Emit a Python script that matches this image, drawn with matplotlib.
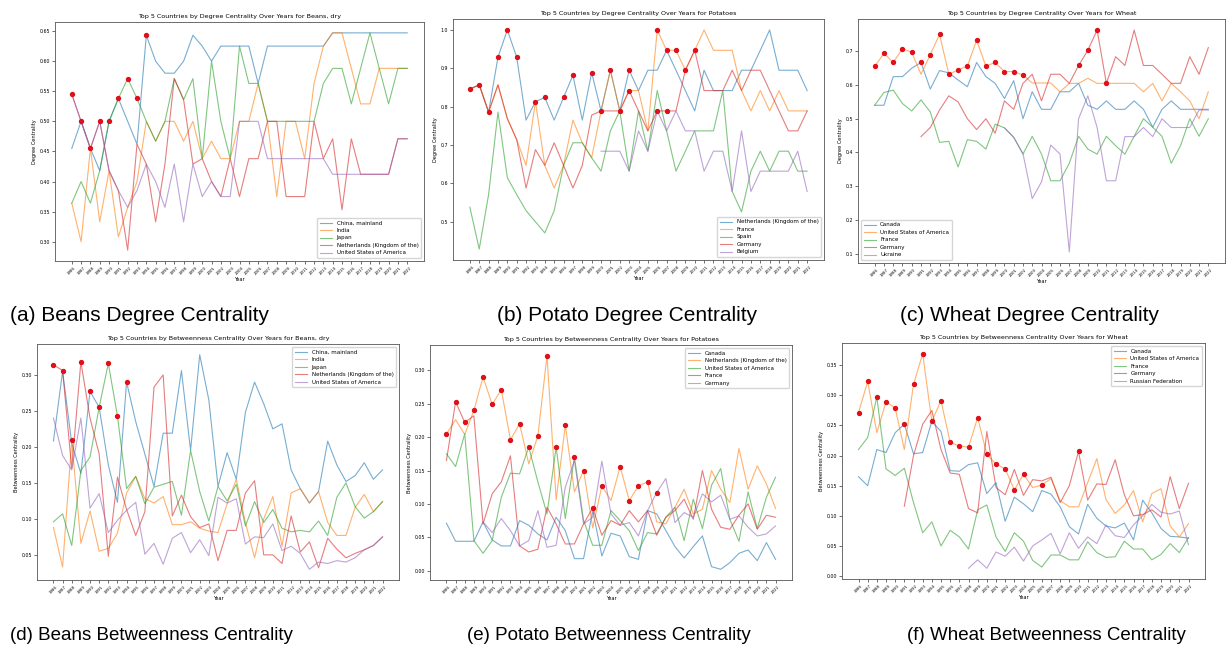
import numpy as np
import matplotlib
matplotlib.use("Agg")
import matplotlib.pyplot as plt

nan = np.nan
years = list(range(1986, 2023))

# (a) Beans, dry - degree centrality
beans_deg_countries = ["China, mainland", "India", "Japan", "Netherlands (Kingdom of the)", "United States of America"]
beans_deg_china = [0.455, 0.50, 0.455, 0.418, 0.50, 0.538, 0.50, 0.462, 0.643,
                   0.60, 0.58, 0.58, 0.60, 0.643, 0.625, 0.60, 0.625, 0.625, 0.625,
                   0.625, 0.563, 0.625, 0.625, 0.625, 0.625, 0.625, 0.625, 0.625,
                   0.647, 0.647, 0.647, 0.647, 0.647, 0.647, 0.647, 0.647, 0.647]
beans_deg_india = [0.364, 0.30, 0.455, 0.333, 0.418, 0.308, 0.357, 0.40, 0.50,
                   0.467, 0.50, 0.50, 0.467, 0.50, 0.438, 0.467, 0.438, 0.438, 0.50,
                   0.50, 0.563, 0.50, 0.375, 0.50, 0.50, 0.438, 0.563, 0.625,
                   0.647, 0.647, 0.588, 0.529, 0.529, 0.588, 0.588, 0.588, 0.588]
beans_deg_japan = [0.364, 0.40, 0.364, 0.418, 0.50, 0.538, 0.571, 0.538, 0.50,
                   0.467, 0.50, 0.571, 0.536, 0.571, 0.438, 0.60, 0.50, 0.438, 0.625,
                   0.563, 0.563, 0.50, 0.50, 0.50, 0.50, 0.50, 0.50, 0.563,
                   0.588, 0.588, 0.529, 0.588, 0.647, 0.588, 0.529, 0.588, 0.588]
beans_deg_nl = [0.545, 0.50, 0.455, 0.50, 0.418, 0.385, 0.286, 0.462, 0.429,
                0.333, 0.429, 0.571, 0.536, 0.429, 0.438, 0.40, 0.375, 0.438, 0.375,
                0.438, 0.438, 0.50, 0.50, 0.375, 0.375, 0.375, 0.50, 0.438,
                0.471, 0.353, 0.471, 0.412, 0.412, 0.412, 0.412, 0.471, 0.471]
beans_deg_usa = [0.545, 0.50, 0.455, 0.50, 0.418, 0.385, 0.357, 0.385, 0.429,
                 0.40, 0.357, 0.429, 0.333, 0.429, 0.375, 0.40, 0.375, 0.375, 0.50,
                 0.50, 0.50, 0.438, 0.438, 0.438, 0.438, 0.438, 0.438, 0.438,
                 0.412, 0.412, 0.412, 0.412, 0.412, 0.412, 0.412, 0.471, 0.471]
beans_deg_mark_years = [1986, 1987, 1988, 1989, 1990, 1991, 1992, 1993, 1994]
beans_deg_mark_who = [3, 3, 3, 3, 2, 2, 2, 2, 0]

# (b) Potatoes - degree centrality
potato_deg_countries = ["Netherlands (Kingdom of the)", "France", "Spain", "Germany", "Belgium"]
potato_deg_nl = [0.846, 0.857, 0.786, 0.929, 1.0, 0.929, 0.765, 0.813, 0.824,
                 0.765, 0.824, 0.882, 0.765, 0.889, 0.789, 0.895, 0.789, 0.895, 0.842,
                 0.895, 0.895, 0.947, 0.895, 0.842, 0.789, 0.895, 0.842, 0.842,
                 0.842, 0.895, 0.895, 0.947, 1.0, 0.895, 0.895, 0.895, 0.842]
potato_deg_france = [0.846, 0.857, 0.786, 0.857, 0.769, 0.714, 0.647, 0.813, 0.647,
                     0.588, 0.647, 0.765, 0.706, 0.667, 0.789, 0.895, 0.789, 0.842, 0.842,
                     0.737, 1.0, 0.947, 0.947, 0.895, 0.947, 1.0, 0.947, 0.947,
                     0.947, 0.842, 0.789, 0.842, 0.789, 0.842, 0.789, 0.789, 0.789]
potato_deg_spain = [0.538, 0.429, 0.571, 0.786, 0.615, 0.571, 0.529, 0.50, 0.471,
                    0.529, 0.647, 0.706, 0.706, 0.667, 0.632, 0.737, 0.789, 0.632, 0.789,
                    0.684, 0.842, 0.737, 0.632, 0.684, 0.737, 0.737, 0.737, 0.842,
                    0.579, 0.526, 0.632, 0.684, 0.632, 0.684, 0.684, 0.632, 0.632]
potato_deg_germany = [0.846, 0.857, 0.786, 0.857, 0.769, 0.714, 0.588, 0.688, 0.647,
                      0.706, 0.647, 0.588, 0.647, 0.778, 0.789, 0.789, 0.789, 0.842, 0.789,
                      0.737, 0.789, 0.789, 0.789, 0.895, 0.947, 0.842, 0.842, 0.842,
                      0.895, 0.842, 0.895, 0.895, 0.842, 0.789, 0.737, 0.737, 0.789]
potato_deg_belgium = [nan] * 14 + [0.684, 0.684, 0.684, 0.632, 0.737,
                                   0.684, 0.789, 0.737, 0.789, 0.737, 0.737, 0.632, 0.684, 0.684,
                                   0.579, 0.737, 0.579, 0.632, 0.632, 0.632, 0.632, 0.684, 0.579]
potato_deg_mark_years = [1986, 1987, 1988, 1989, 1990, 1991, 1993, 1994, 1996, 1997, 1999,
                         2000, 2001, 2002, 2003, 2003, 2006, 2006, 2007, 2007, 2008, 2009, 2010]
potato_deg_mark_who = [0, 0, 0, 0, 0, 0, 0, 0, 0, 0, 0,
                       0, 0, 0, 0, 3, 1, 3, 0, 3, 1, 3, 3]

# (c) Wheat - degree centrality
wheat_deg_countries = ["Canada", "United States of America", "France", "Germany", "Ukraine"]
wheat_deg_canada = [0.54, 0.54, 0.625, 0.625, 0.65, 0.667, 0.588, 0.643, 0.636,
                    0.615, 0.595, 0.667, 0.625, 0.605, 0.56, 0.613, 0.50, 0.58, 0.528,
                    0.528, 0.58, 0.58, 0.605, 0.54, 0.528, 0.553, 0.528, 0.528,
                    0.553, 0.528, 0.475, 0.528, 0.553, 0.528, 0.528, 0.528, 0.528]
wheat_deg_usa = [0.655, 0.694, 0.667, 0.708, 0.697, 0.632, 0.69, 0.75, 0.632,
                 0.645, 0.656, 0.733, 0.656, 0.667, 0.64, 0.64, 0.63, 0.606, 0.606,
                 0.606, 0.58, 0.605, 0.605, 0.62, 0.605, 0.605, 0.605, 0.605,
                 0.605, 0.58, 0.605, 0.553, 0.605, 0.58, 0.553, 0.50, 0.58]
wheat_deg_france = [0.54, 0.578, 0.585, 0.545, 0.523, 0.556, 0.52, 0.43, 0.433,
                    0.357, 0.438, 0.433, 0.41, 0.484, 0.473, 0.445, 0.395, 0.448, 0.395,
                    0.316, 0.316, 0.368, 0.448, 0.41, 0.395, 0.448, 0.42, 0.395,
                    0.448, 0.50, 0.475, 0.448, 0.368, 0.42, 0.50, 0.448, 0.50]
wheat_deg_germany = [nan] * 5 + [0.447, 0.474, 0.526, 0.568,
                                 0.55, 0.50, 0.468, 0.50, 0.457, 0.553, 0.528, 0.605, 0.632, 0.553,
                                 0.632, 0.632, 0.605, 0.658, 0.703, 0.763, 0.605, 0.684, 0.658,
                                 0.763, 0.658, 0.658, 0.632, 0.605, 0.605, 0.684, 0.632, 0.711]
wheat_deg_ukraine = [nan] * 14 + [0.473, 0.445, 0.397, 0.263, 0.313,
                                  0.422, 0.395, 0.105, 0.50, 0.568, 0.474, 0.316, 0.316, 0.447,
                                  0.447, 0.474, 0.447, 0.50, 0.474, 0.474, 0.474, 0.526, 0.526]
wheat_deg_mark_years = [1986, 1987, 1988, 1989, 1990, 1991, 1992, 1993, 1994, 1995, 1996,
                        1997, 1998, 1999, 2000, 2001, 2002, 2008, 2009, 2010, 2011]
wheat_deg_mark_who = [1, 1, 1, 1, 1, 0, 1, 1, 1, 1, 1,
                      1, 1, 1, 1, 1, 1, 3, 3, 3, 1]

# (d) Beans, dry - betweenness centrality
beans_btw_countries = beans_deg_countries
beans_btw_china = [0.208, 0.305, 0.205, 0.163, 0.277, 0.255, 0.175, 0.123, 0.290,
                   0.235, 0.190, 0.145, 0.219, 0.219, 0.306, 0.195, 0.328, 0.265, 0.145,
                   0.192, 0.155, 0.248, 0.290, 0.260, 0.225, 0.232, 0.168, 0.142,
                   0.122, 0.138, 0.208, 0.175, 0.152, 0.160, 0.178, 0.155, 0.168]
beans_btw_india = [0.088, 0.033, 0.209, 0.066, 0.111, 0.055, 0.059, 0.080, 0.136,
                   0.159, 0.128, 0.122, 0.131, 0.092, 0.092, 0.096, 0.087, 0.083, 0.081,
                   0.121, 0.155, 0.095, 0.046, 0.100, 0.131, 0.062, 0.136, 0.142,
                   0.122, 0.138, 0.095, 0.077, 0.077, 0.116, 0.134, 0.110, 0.124]
beans_btw_japan = [0.096, 0.107, 0.063, 0.167, 0.186, 0.255, 0.316, 0.243, 0.142,
                   0.159, 0.121, 0.144, 0.148, 0.152, 0.105, 0.195, 0.138, 0.097, 0.145,
                   0.125, 0.148, 0.090, 0.124, 0.095, 0.113, 0.087, 0.082, 0.084,
                   0.082, 0.097, 0.077, 0.130, 0.150, 0.117, 0.101, 0.110, 0.124]
beans_btw_nl = [0.314, 0.306, 0.170, 0.318, 0.240, 0.190, 0.048, 0.158, 0.113,
                0.077, 0.110, 0.283, 0.300, 0.104, 0.133, 0.103, 0.088, 0.093, 0.042,
                0.084, 0.084, 0.136, 0.153, 0.050, 0.050, 0.038, 0.104, 0.054,
                0.068, 0.032, 0.073, 0.058, 0.046, 0.052, 0.057, 0.063, 0.075]
beans_btw_usa = [0.240, 0.188, 0.168, 0.240, 0.115, 0.135, 0.081, 0.098, 0.112,
                 0.123, 0.051, 0.066, 0.037, 0.073, 0.081, 0.053, 0.071, 0.049, 0.130,
                 0.122, 0.128, 0.065, 0.075, 0.074, 0.093, 0.056, 0.062, 0.052,
                 0.030, 0.040, 0.038, 0.042, 0.040, 0.046, 0.057, 0.063, 0.075]
beans_btw_mark_years = [1986, 1987, 1988, 1989, 1990, 1991, 1992, 1993, 1994]
beans_btw_mark_who = [3, 3, 1, 3, 0, 0, 2, 2, 0]

# (e) Potatoes - betweenness centrality
potato_btw_countries = ["Canada", "Netherlands (Kingdom of the)", "United States of America", "France", "Germany"]
potato_btw_canada = [0.071, 0.044, 0.044, 0.044, 0.073, 0.046, 0.037, 0.037, 0.075,
                     0.068, 0.055, 0.046, 0.080, 0.060, 0.018, 0.018, 0.090, 0.022, 0.056,
                     0.052, 0.021, 0.017, 0.090, 0.085, 0.060, 0.036, 0.019, 0.036,
                     0.052, 0.006, 0.002, 0.012, 0.026, 0.031, 0.015, 0.042, 0.017]
potato_btw_nl = [0.205, 0.226, 0.204, 0.240, 0.290, 0.249, 0.271, 0.196, 0.220,
                 0.160, 0.202, 0.322, 0.106, 0.218, 0.118, 0.150, 0.064, 0.127, 0.105,
                 0.156, 0.105, 0.127, 0.133, 0.073, 0.070, 0.095, 0.122, 0.085,
                 0.092, 0.150, 0.122, 0.102, 0.183, 0.122, 0.157, 0.130, 0.093]
potato_btw_usa = [0.175, 0.156, 0.205, 0.045, 0.026, 0.045, 0.110, 0.146, 0.145,
                  0.185, 0.133, 0.085, 0.185, 0.078, 0.170, 0.075, 0.038, 0.038, 0.090,
                  0.075, 0.060, 0.030, 0.057, 0.055, 0.080, 0.095, 0.045, 0.107,
                  0.063, 0.128, 0.153, 0.077, 0.044, 0.118, 0.063, 0.110, 0.140]
potato_btw_france = [0.165, 0.253, 0.222, 0.232, 0.070, 0.115, 0.133, 0.172, 0.037,
                     0.028, 0.032, 0.095, 0.070, 0.040, 0.040, 0.070, 0.094, 0.053, 0.075,
                     0.068, 0.090, 0.073, 0.090, 0.053, 0.080, 0.090, 0.107, 0.077,
                     0.150, 0.092, 0.065, 0.062, 0.083, 0.100, 0.062, 0.083, 0.080]
potato_btw_germany = [nan] * 4 + [0.073, 0.057, 0.078, 0.060, 0.037,
                                  0.045, 0.090, 0.035, 0.038, 0.125, 0.165, 0.070, 0.080, 0.164, 0.085,
                                  0.068, 0.072, 0.052, 0.090, 0.117, 0.138, 0.072, 0.087, 0.080,
                                  0.115, 0.103, 0.113, 0.077, 0.082, 0.065, 0.052, 0.055, 0.067]
potato_btw_mark_years = [1986, 1987, 1988, 1989, 1990, 1991, 1992, 1993, 1994, 1995, 1996, 1997,
                         1998, 1999, 2000, 2001, 2002, 2003, 2005, 2006, 2007, 2008, 2009]
potato_btw_mark_who = [1, 3, 3, 1, 1, 1, 1, 1, 1, 2, 1, 1,
                       2, 1, 2, 1, 3, 1, 1, 1, 1, 1, 4]

# (f) Wheat - betweenness centrality
wheat_btw_countries = ["Canada", "United States of America", "France", "Germany", "Russian Federation"]
wheat_btw_canada = [0.165, 0.150, 0.210, 0.205, 0.238, 0.252, 0.203, 0.205, 0.257,
                    0.240, 0.175, 0.174, 0.185, 0.188, 0.137, 0.155, 0.091, 0.131, 0.120,
                    0.107, 0.142, 0.136, 0.115, 0.082, 0.070, 0.119, 0.096, 0.083,
                    0.080, 0.088, 0.060, 0.126, 0.105, 0.079, 0.066, 0.065, 0.063]
wheat_btw_usa = [0.271, 0.323, 0.238, 0.289, 0.279, 0.210, 0.318, 0.369, 0.257,
                 0.291, 0.222, 0.216, 0.214, 0.263, 0.202, 0.186, 0.178, 0.143, 0.169,
                 0.147, 0.151, 0.162, 0.125, 0.115, 0.115, 0.155, 0.195, 0.127,
                 0.104, 0.118, 0.142, 0.090, 0.137, 0.145, 0.083, 0.065, 0.087]
wheat_btw_france = [0.210, 0.230, 0.297, 0.178, 0.167, 0.179, 0.122, 0.072, 0.090,
                    0.050, 0.076, 0.065, 0.045, 0.110, 0.118, 0.065, 0.041, 0.072, 0.058,
                    0.026, 0.015, 0.035, 0.035, 0.027, 0.027, 0.057, 0.039, 0.031,
                    0.032, 0.058, 0.045, 0.045, 0.027, 0.036, 0.054, 0.039, 0.064]
wheat_btw_germany = [nan] * 5 + [0.116, 0.200, 0.252, 0.275,
                                 0.210, 0.171, 0.169, 0.112, 0.105, 0.240, 0.147, 0.135, 0.177, 0.134,
                                 0.160, 0.158, 0.164, 0.122, 0.150, 0.207, 0.126, 0.153, 0.152,
                                 0.193, 0.135, 0.100, 0.102, 0.110, 0.098, 0.165, 0.112, 0.154]
wheat_btw_russia = [nan] * 12 + [0.013, 0.027, 0.013, 0.040, 0.033, 0.048, 0.025,
                                 0.050, 0.060, 0.071, 0.037, 0.072, 0.046, 0.065, 0.054, 0.085,
                                 0.067, 0.064, 0.085, 0.100, 0.119, 0.106, 0.103, 0.108, 0.052]
wheat_btw_mark_years = [1986, 1987, 1988, 1989, 1990, 1991, 1992, 1993, 1994, 1995, 1996,
                        1997, 1998, 1999, 2000, 2001, 2002, 2003, 2004, 2006, 2010]
wheat_btw_mark_who = [1, 1, 2, 1, 1, 0, 1, 1, 1, 1, 1,
                      1, 1, 1, 1, 1, 1, 1, 1, 1, 3]

W, H = 1227, 650


def px_box(left, top, right, bottom):
    return [left / W, 1 - bottom / H, (right - left) / W, (bottom - top) / H]


def draw_panel(ax, title, ylabel, countries, series, mark_years, mark_who, legend_loc):
    for name, vals in zip(countries, series):
        ax.plot(years, vals, label=name, linewidth=0.8, alpha=0.6)
    mx = mark_years
    my = [series[w][years.index(y)] for y, w in zip(mark_years, mark_who)]
    ax.scatter(mx, my, color="#e0101a", s=8, zorder=5)
    ax.set_title(title, fontsize=4.6, pad=3)
    ax.set_xlabel("Year", fontsize=3.6, labelpad=1)
    ax.set_ylabel(ylabel, fontsize=3.6, labelpad=2)
    ax.set_xticks(years)
    ax.set_xticklabels([str(y) for y in years], rotation=45, fontsize=2.8)
    ax.tick_params(axis="y", labelsize=3.4)
    ax.tick_params(length=2, width=0.4, pad=1.5)
    for s in ax.spines.values():
        s.set_linewidth(0.6)
        s.set_color("#555555")
    ax.legend(loc=legend_loc, fontsize=4, frameon=True, handlelength=2.2,
              borderpad=0.5, labelspacing=0.45)


fig = plt.figure(figsize=(W / 100, H / 100), dpi=100)

ax_a = fig.add_axes(px_box(55, 22, 424, 261))
draw_panel(ax_a, "Top 5 Countries by Degree Centrality Over Years for Beans, dry", "Degree Centrality",
           beans_deg_countries,
           [beans_deg_china, beans_deg_india, beans_deg_japan, beans_deg_nl, beans_deg_usa],
           beans_deg_mark_years, beans_deg_mark_who, "lower right")

ax_b = fig.add_axes(px_box(453, 19, 824, 260))
draw_panel(ax_b, "Top 5 Countries by Degree Centrality Over Years for Potatoes", "Degree Centrality",
           potato_deg_countries,
           [potato_deg_nl, potato_deg_france, potato_deg_spain, potato_deg_germany, potato_deg_belgium],
           potato_deg_mark_years, potato_deg_mark_who, "lower right")

ax_c = fig.add_axes(px_box(858, 19, 1225, 263))
draw_panel(ax_c, "Top 5 Countries by Degree Centrality Over Years for Wheat", "Degree Centrality",
           wheat_deg_countries,
           [wheat_deg_canada, wheat_deg_usa, wheat_deg_france, wheat_deg_germany, wheat_deg_ukraine],
           wheat_deg_mark_years, wheat_deg_mark_who, "lower left")

ax_d = fig.add_axes(px_box(37, 344, 399, 580))
draw_panel(ax_d, "Top 5 Countries by Betweenness Centrality Over Years for Beans, dry", "Betweenness Centrality",
           beans_btw_countries,
           [beans_btw_china, beans_btw_india, beans_btw_japan, beans_btw_nl, beans_btw_usa],
           beans_btw_mark_years, beans_btw_mark_who, "upper right")

ax_e = fig.add_axes(px_box(430, 345, 792, 580))
draw_panel(ax_e, "Top 5 Countries by Betweenness Centrality Over Years for Potatoes", "Betweenness Centrality",
           potato_btw_countries,
           [potato_btw_canada, potato_btw_nl, potato_btw_usa, potato_btw_france, potato_btw_germany],
           potato_btw_mark_years, potato_btw_mark_who, "upper right")

ax_f = fig.add_axes(px_box(842, 343, 1205, 579))
draw_panel(ax_f, "Top 5 Countries by Betweenness Centrality Over Years for Wheat", "Betweenness Centrality",
           wheat_btw_countries,
           [wheat_btw_canada, wheat_btw_usa, wheat_btw_france, wheat_btw_germany, wheat_btw_russia],
           wheat_btw_mark_years, wheat_btw_mark_who, "upper right")

captions = ["(a) Beans Degree Centrality", "(b) Potato Degree Centrality", "(c) Wheat Degree Centrality",
            "(d) Beans Betweenness Centrality", "(e) Potato Betweenness Centrality",
            "(f) Wheat Betweenness Centrality"]
cap_x = [10, 497, 900, 10, 467, 907]
cap_y = [315, 315, 315, 636, 636, 636]
cap_size = [15, 15, 15, 13.5, 13.5, 13.5]
for txt, x, y, fs in zip(captions, cap_x, cap_y, cap_size):
    fig.text(x / W, 1 - y / H, txt, ha="left", va="center", fontsize=fs,
             family=["Liberation Sans", "DejaVu Sans"])

fig.savefig("out.png", dpi=100)
